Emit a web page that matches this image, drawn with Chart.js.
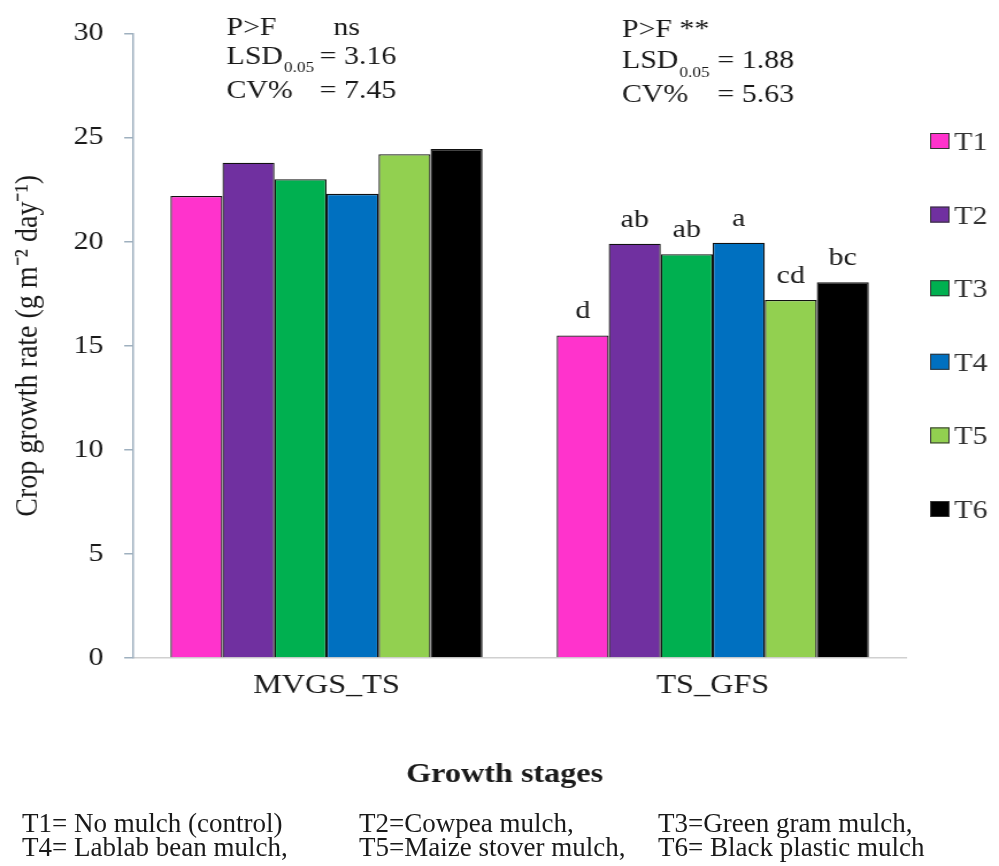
<!DOCTYPE html>
<html>
<head>
<meta charset="utf-8">
<script src="https://cdn.jsdelivr.net/npm/chart.js@4.4.1/dist/chart.umd.min.js"></script>
<style>
  html, body { margin: 0; padding: 0; background: #fff; }
  body { width: 999px; height: 866px; position: relative; overflow: hidden; }
  /* the source figure is stretched sideways, so the canvas is too */
  #wrap { position: absolute; left: 0; top: 0; width: 869px; height: 866px; transform-origin: 0 0; transform: scaleX(1.1496); }
  #notes { position: absolute; left: 0; top: 0; width: 999px; height: 866px; font-family: 'Liberation Serif', 'Times New Roman', serif; font-size: 27px; line-height: 27px; color: #1a1a1a; }
  #notes span { position: absolute; white-space: nowrap; }
</style>
</head>
<body>
<div id="wrap"><canvas id="chartArea" width="869" height="866"></canvas></div>
<div id="notes"></div>
<script>
// Chart data
var stages = ['MVGS_TS', 'TS_GFS'];
var treatments = ['T1', 'T2', 'T3', 'T4', 'T5', 'T6'];
var cgrT1 = [22.2, 15.5];
var cgrT2 = [23.8, 19.9];
var cgrT3 = [23.0, 19.4];
var cgrT4 = [22.3, 19.95];
var cgrT5 = [24.2, 17.2];
var cgrT6 = [24.45, 18.05];
var yTicks = [0, 5, 10, 15, 20, 25, 30];

// Mean separation letters for TS_GFS (T1..T6)
var tsGfsLetters = ['d', 'ab', 'ab', 'a', 'cd', 'bc'];

// ANOVA summary for each stage: significance, LSD 0.05, CV%
var statsMvgs = ['ns', '3.16', '7.45'];
var statsTsGfs = ['**', '1.88', '5.63'];

var notesRow1 = ['T1= No mulch (control)', 'T2=Cowpea mulch,', 'T3=Green gram mulch,'];
var notesRow2 = ['T4= Lablab bean mulch,', 'T5=Maize stover mulch,', 'T6= Black plastic mulch'];

var barColors = ['#FF33CC', '#7030A0', '#00B050', '#0070C0', '#92D050', '#000000'];
var serif = "'Liberation Serif', 'Times New Roman', serif";
var textColor = '#1a1a1a';
var axisColor = '#9fb0bf';

var cgrValues = [cgrT1, cgrT2, cgrT3, cgrT4, cgrT5, cgrT6];

// Draw the stats block, letters, legend and x title on top of the chart
function drawStats(ctx, x, baselines, subY, vals, sigX, valX) {
  ctx.font = '26px ' + serif;
  ctx.textAlign = 'left';
  ctx.fillText('P>F', x, baselines[0]);
  ctx.fillText(vals[0], sigX, baselines[0]);
  ctx.fillText('LSD', x, baselines[1]);
  var lsdW = ctx.measureText('LSD').width;
  ctx.fillText('= ' + vals[1], valX, baselines[1]);
  ctx.fillText('CV%', x, baselines[2]);
  ctx.fillText('= ' + vals[2], valX, baselines[2]);
  ctx.font = '15px ' + serif;
  ctx.fillText('0.05', x + lsdW + 1, subY);
}

var overlay = {
  id: 'overlay',
  afterDraw: function(chart) {
    var ctx = chart.ctx;
    ctx.save();
    ctx.fillStyle = textColor;
    ctx.textBaseline = 'alphabetic';

    drawStats(ctx, 197, [35, 64, 98], 72, statsMvgs, 290, 278);
    drawStats(ctx, 541, [37, 68, 102], 77, statsTsGfs, 591, 624);

    // letters above the TS_GFS bars
    ctx.font = '26px ' + serif;
    ctx.textAlign = 'center';
    chart.data.datasets.forEach(function(ds, i) {
      var bar = chart.getDatasetMeta(i).data[1];
      ctx.fillText(tsGfsLetters[i], bar.x, bar.y - 17);
    });

    // legend on the right
    ctx.textAlign = 'left';
    chart.data.datasets.forEach(function(ds, i) {
      var cy = 141 + 73.6 * i;
      ctx.fillStyle = ds.backgroundColor;
      ctx.fillRect(809, cy - 8, 17, 16);
      ctx.strokeStyle = '#333';
      ctx.lineWidth = 1;
      ctx.strokeRect(809.5, cy - 7.5, 16, 15);
      ctx.fillStyle = '#333';
      ctx.font = '26px ' + serif;
      ctx.fillText(ds.label, 830, cy + 9);
    });

    // x axis title
    ctx.fillStyle = textColor;
    ctx.font = 'bold 28px ' + serif;
    ctx.textAlign = 'center';
    ctx.fillText('Growth stages', 439, 782);
    ctx.restore();
  }
};

var chart = new Chart(document.getElementById('chartArea'), {
  type: 'bar',
  data: {
    labels: stages,
    datasets: treatments.map(function(t, i) {
      return {
        label: t,
        data: cgrValues[i],
        backgroundColor: barColors[i],
        borderColor: '#111111',
        borderWidth: 1.3,
        categoryPercentage: 0.808,
        barPercentage: 1.0
      };
    })
  },
  options: {
    responsive: false,
    animation: false,
    devicePixelRatio: 1,
    layout: { padding: { top: 25, right: 81, left: 0, bottom: 0 } },
    plugins: { legend: { display: false }, tooltip: { enabled: false } },
    scales: {
      x: {
        grid: { display: false },
        border: { display: true, color: '#d0d0d0', width: 1.5 },
        ticks: { color: textColor, font: { family: serif, size: 28 }, padding: 3 },
        afterFit: function(s) { s.height = 208; }
      },
      y: {
        min: 0,
        max: 30,
        afterBuildTicks: function(s) { s.ticks = yTicks.map(function(v) { return { value: v }; }); },
        ticks: { color: textColor, font: { family: serif, size: 26 }, padding: 18 },
        grid: { drawOnChartArea: false, drawTicks: true, tickLength: 8, color: axisColor, lineWidth: 1.5 },
        border: { color: axisColor, width: 1.5 },
        title: {
          display: true,
          text: 'Crop growth rate (g m\u207B\u00B2 day\u207B\u00B9)',
          color: textColor,
          font: { family: serif, size: 28 },
          padding: { top: 8 }
        },
        afterFit: function(s) { s.width = 116; }
      }
    }
  },
  plugins: [overlay]
});

// footnote with the treatment key, not stretched
var notes = document.getElementById('notes');
var noteCols = [22, 359, 658];
[notesRow1, notesRow2].forEach(function(row, r) {
  row.forEach(function(txt, c) {
    var span = document.createElement('span');
    span.textContent = txt;
    span.style.left = noteCols[c] + 'px';
    span.style.top = (810 + 24 * r) + 'px';
    notes.appendChild(span);
  });
});
</script>
</body>
</html>
